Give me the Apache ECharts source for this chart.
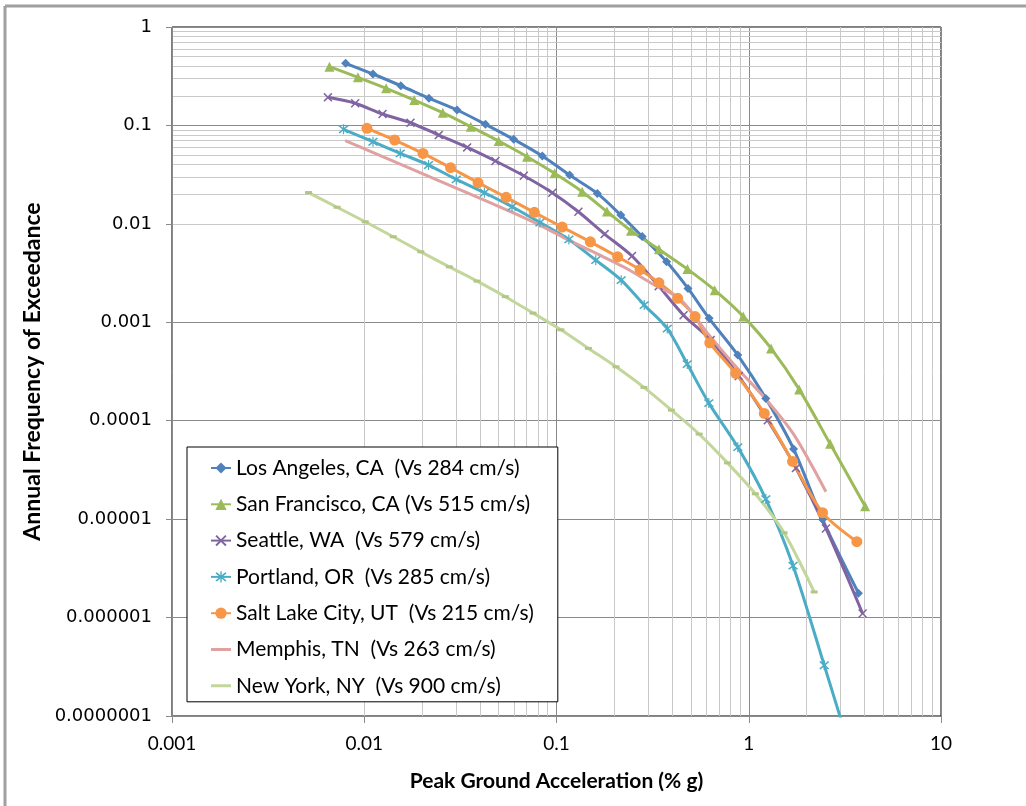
<!DOCTYPE html>
<html>
<head>
<meta charset="utf-8">
<script src="https://cdn.jsdelivr.net/npm/echarts@6/dist/echarts.min.js"></script>
<style>
html,body{margin:0;padding:0;background:#fff;}
#chart{width:1026px;height:806px;}
</style>
</head>
<body>
<div id="chart"></div>
<script>
// ---- data (PGA in % g, annual frequency of exceedance) ----
const seriesNames = [
  'Los Angeles, CA  (Vs 284 cm/s)',
  'San Francisco, CA (Vs 515 cm/s)',
  'Seattle, WA  (Vs 579 cm/s)',
  'Portland, OR  (Vs 285 cm/s)',
  'Salt Lake City, UT  (Vs 215 cm/s)',
  'Memphis, TN  (Vs 263 cm/s)',
  'New York, NY  (Vs 900 cm/s)'
];
const laX = [0.0080,0.0111,0.0155,0.0217,0.0304,0.0427,0.0599,0.0844,0.117,0.163,0.216,0.279,0.374,0.483,0.622,0.877,1.227,1.71,2.42,3.72];
const laY = [0.428,0.333,0.253,0.189,0.1435,0.1026,0.0722,0.0489,0.0313,0.0204,0.01228,0.00743,0.00412,0.00221,0.001096,0.000465,0.0001686,5.17e-5,9.93e-6,1.77e-6];
const sfX = [0.00659,0.00927,0.0130,0.0182,0.0256,0.0358,0.0500,0.0703,0.0977,0.136,0.183,0.244,0.341,0.480,0.665,0.936,1.306,1.83,2.65,4.03];
const sfY = [0.395,0.308,0.238,0.181,0.1346,0.0970,0.0694,0.0481,0.0326,0.0212,0.01334,0.00851,0.00551,0.00347,0.00212,0.001148,0.000543,0.000208,5.82e-5,1.355e-5];
const seX = [0.00647,0.00897,0.01245,0.0174,0.0244,0.0343,0.0481,0.0676,0.0951,0.130,0.178,0.247,0.340,0.458,0.634,0.887,1.256,1.76,2.52,3.91];
const seY = [0.193,0.168,0.1306,0.1065,0.0798,0.0598,0.0435,0.0308,0.0207,0.01327,0.00787,0.00471,0.00233,0.00118,0.000659,0.000284,0.000101,3.3e-5,8.04e-6,1.10e-6];
const poX = [0.00780,0.0111,0.0154,0.0216,0.0301,0.0422,0.0587,0.0820,0.116,0.160,0.217,0.286,0.377,0.479,0.620,0.877,1.227,1.70,2.47,3.7];
const poY = [0.0913,0.0683,0.0520,0.0396,0.0283,0.0207,0.01492,0.01031,0.00695,0.00428,0.00268,0.001495,0.000863,0.000376,0.000151,5.39e-5,1.60e-5,3.37e-6,3.28e-7,2.5e-8];
const slX = [0.01033,0.0144,0.0202,0.0281,0.0391,0.0547,0.0767,0.107,0.150,0.208,0.272,0.341,0.427,0.526,0.627,0.855,1.205,1.69,2.42,3.65];
const slY = [0.0935,0.0711,0.0520,0.0372,0.0262,0.0186,0.01309,0.00927,0.00657,0.00463,0.00342,0.00252,0.00175,0.001143,0.000619,0.000303,0.0001186,3.86e-5,1.164e-5,5.9e-6];
const meX = [0.00796,0.01114,0.0156,0.0218,0.0305,0.0427,0.0597,0.0836,0.117,0.164,0.229,0.316,0.442,0.619,0.877,1.24,1.71,2.52];
const meY = [0.0700,0.0530,0.0400,0.0302,0.0228,0.0172,0.0129,0.0095,0.00676,0.00493,0.00356,0.00245,0.00170,0.00075,0.000338,0.000162,7.3e-5,1.9e-5];
const nyX = [0.00513,0.00722,0.01012,0.01416,0.0197,0.0277,0.0386,0.0542,0.0755,0.1054,0.1466,0.204,0.285,0.396,0.552,0.775,1.082,1.527,2.19];
const nyY = [0.0208,0.01475,0.0105,0.0074,0.0052,0.00366,0.00262,0.00182,0.00124,0.000839,0.000543,0.000353,0.000218,0.000128,7.31e-5,3.73e-5,1.81e-5,7.26e-6,1.82e-6];
const xTickLabels = ['0.001','0.01','0.1','1','10'];
const yTickLabels = ['0.0000001','0.000001','0.00001','0.0001','0.001','0.01','0.1','1'];
// ------------------------------------------------------------

const colors = ['#4F81BD','#9BBB59','#8064A2','#4BACC6','#F79646','#E0A2A0','#C3D69B'];
const xSym = 'path://M0,1.2L1.2,0L5,3.8L8.8,0L10,1.2L6.2,5L10,8.8L8.8,10L5,6.2L1.2,10L0,8.8L3.8,5Z';
const starSym = 'path://M0,1.2L1.2,0L5,3.8L8.8,0L10,1.2L6.2,5L10,8.8L8.8,10L5,6.2L1.2,10L0,8.8L3.8,5Z M4.4,-1L5.6,-1L5.6,11L4.4,11Z';
const lineIcon = 'path://M0,5.5L20,5.5L20,8.5L0,8.5Z M0,0L0.02,0L0,0.02Z M20,14L19.98,14L20,13.98Z';
const symbols = ['diamond','triangle',xSym,starSym,'circle','none','rect'];
const symSizes = [9,10,9,10,11,0,[7,3]];
const xs = [laX,sfX,seX,poX,slX,meX,nyX];
const ys = [laY,sfY,seY,poY,slY,meY,nyY];

function zip(a,b){ return a.map((v,i)=>[v,b[i]]); }

const minorX = [];
for (let d=-3; d<=0; d++) for (let m=2; m<=9; m++) minorX.push(m*Math.pow(10,d));
const minorY = [];
for (let d=-7; d<=-1; d++) for (let m=2; m<=9; m++) minorY.push(m*Math.pow(10,d));

const series = seriesNames.map((n,i)=>({
  name: n,
  type: 'line',
  data: zip(xs[i], ys[i]),
  smooth: 0.3,
  symbol: symbols[i],
  symbolSize: symSizes[i],
  showSymbol: symbols[i] !== 'none',
  lineStyle: {color: colors[i], width: 3},
  itemStyle: {color: i===6 ? '#B2C785' : colors[i]},
  z: 5,
  clip: true
}));

series.unshift({
  name: 'minorgrid',
  type: 'line',
  data: [],
  silent: true,
  z: 0,
  markLine: {
    silent: true,
    z: 0,
    symbol: ['none','none'],
    label: {show: false},
    lineStyle: {color: '#c9c9c9', width: 1, type: 'solid'},
    emphasis: {disabled: true},
    animation: false,
    data: minorX.map(v=>({xAxis: v})).concat(minorY.map(v=>({yAxis: v})))
  }
});

const legendData = seriesNames.map((n,i)=> i >= 5
  ? {name: n, icon: lineIcon, itemStyle: {color: colors[i]}}
  : {name: n});

const chart = echarts.init(document.getElementById('chart'), null, {renderer: 'canvas'});
chart.setOption({
  animation: false,
  backgroundColor: '#fff',
  color: colors,
  grid: {left: 172, top: 27, right: 85, bottom: 90, show: true, borderColor: '#000', borderWidth: 1, backgroundColor: 'transparent'},
  graphic: [
    {type: 'line', shape: {x1: 5, y1: 6, x2: 1026, y2: 6}, style: {stroke: '#a0a0a0', lineWidth: 3}},
    {type: 'line', shape: {x1: 5, y1: 6, x2: 5, y2: 806}, style: {stroke: '#a0a0a0', lineWidth: 3}}
  ],
  legend: {
    data: legendData,
    orient: 'vertical',
    left: 187, top: 447,
    z: 50,
    padding: [10, 24, 5, 23],
    itemWidth: 20, itemHeight: 14, itemGap: 14.3,
    backgroundColor: '#fff',
    borderColor: '#000', borderWidth: 1,
    textStyle: {fontFamily: 'Lato', fontSize: 21, color: '#000', lineHeight: 22},
    selectedMode: false
  },
  xAxis: {
    type: 'log', logBase: 10, min: 0.001, max: 10,
    name: 'Peak Ground Acceleration (% g)',
    nameLocation: 'middle', nameGap: 55,
    nameTextStyle: {fontFamily: 'Lato', fontWeight: 'bold', fontSize: 21, color: '#000'},
    axisLine: {lineStyle: {color: '#8a8a8a', width: 1}},
    axisTick: {show: true, length: 7, lineStyle: {color: '#8a8a8a'}},
    axisLabel: {margin: 18, fontFamily: 'Lato', fontSize: 19, color: '#000',
      formatter: v => xTickLabels[Math.round(Math.log10(v)) + 3]},
    splitLine: {show: true, lineStyle: {color: '#8a8a8a', width: 1}}
  },
  yAxis: {
    type: 'log', logBase: 10, min: 1e-7, max: 1,
    name: 'Annual Frequency of Exceedance',
    nameLocation: 'middle', nameGap: 122, nameRotate: 90,
    nameTextStyle: {fontFamily: 'Lato', fontWeight: 'bold', fontSize: 23, color: '#000'},
    axisLine: {lineStyle: {color: '#8a8a8a', width: 1}},
    axisTick: {show: true, length: 6, lineStyle: {color: '#8a8a8a'}},
    axisLabel: {margin: 20, fontFamily: 'DejaVu Sans', fontSize: 18, color: '#000',
      formatter: v => yTickLabels[Math.round(Math.log10(v)) + 7]},
    splitLine: {show: true, lineStyle: {color: '#8a8a8a', width: 1}}
  },
  series: series
});
</script>
</body>
</html>
